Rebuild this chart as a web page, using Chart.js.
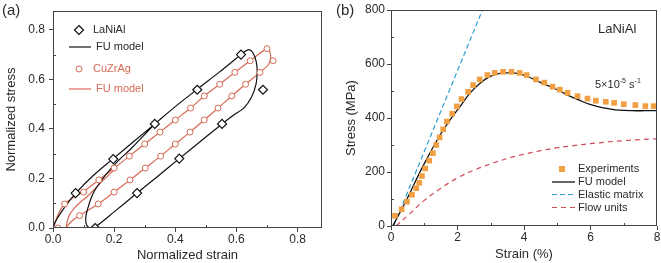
<!DOCTYPE html>
<html>
<head>
<meta charset="utf-8">
<script src="https://cdn.jsdelivr.net/npm/chart.js@4.4.1/dist/chart.umd.min.js"></script>
<style>
  body { margin: 0; background: #fff; }
  #wrap { position: relative; width: 661px; height: 263px; }
  .panel { position: absolute; top: 0; height: 263px; }
</style>
</head>
<body>
<div id="wrap">
  <div class="panel" style="left:0;width:330px"><canvas id="chartA"></canvas></div>
  <div class="panel" style="left:330px;width:331px"><canvas id="chartB"></canvas></div>
</div>
<script>
// ---- panel (a): normalized stress-strain loops ----
const LANIAL_X = [0.074, 0.197, 0.333, 0.472, 0.615, 0.687, 0.553, 0.413, 0.275, 0.138];
const LANIAL_Y = [0.141, 0.278, 0.420, 0.558, 0.700, 0.558, 0.420, 0.280, 0.141, 0.000];

const LANIAL_FU_X = [0, 0.01, 0.025, 0.045, 0.074, 0.13, 0.197, 0.265, 0.333, 0.40, 0.472, 0.545, 0.60, 0.625, 0.642,
  0.655, 0.665, 0.668, 0.664, 0.65, 0.625, 0.59, 0.553, 0.483, 0.413, 0.344, 0.275, 0.20, 0.15, 0.13,
  0.115, 0.108, 0.108, 0.114, 0.123, 0.135, 0.152, 0.173, 0.197, 0.222, 0.255, 0.29, 0.333];
const LANIAL_FU_Y = [0, 0.03, 0.06, 0.095, 0.14, 0.21, 0.28, 0.35, 0.42, 0.49, 0.56, 0.63, 0.685, 0.71, 0.72,
  0.705, 0.67, 0.63, 0.58, 0.53, 0.485, 0.455, 0.42, 0.35, 0.28, 0.21, 0.141, 0.065, 0.015, 0.0,
  0.004, 0.02, 0.05, 0.08, 0.115, 0.148, 0.18, 0.215, 0.25, 0.282, 0.32, 0.365, 0.42];

const CUZRAG_X = [0.016, 0.038, 0.10, 0.15, 0.20, 0.25, 0.30, 0.35, 0.40, 0.45, 0.495, 0.545, 0.595, 0.645, 0.70,
  0.72, 0.677, 0.63, 0.585, 0.54, 0.495, 0.448, 0.40, 0.352, 0.302, 0.252, 0.20, 0.148, 0.087];
const CUZRAG_Y = [0.0, 0.097, 0.145, 0.194, 0.242, 0.29, 0.339, 0.387, 0.436, 0.484, 0.533, 0.58, 0.628, 0.675, 0.724,
  0.675, 0.628, 0.58, 0.533, 0.484, 0.436, 0.387, 0.339, 0.29, 0.242, 0.194, 0.145, 0.097, 0.05];

const CUZRAG_FU_X = [0, 0.012, 0.025, 0.038, 0.06, 0.10, 0.15, 0.20, 0.25, 0.30, 0.35, 0.40, 0.45, 0.495, 0.545, 0.595, 0.645, 0.70,
  0.708, 0.712, 0.705, 0.677, 0.63, 0.585, 0.54, 0.495, 0.448, 0.40, 0.352, 0.302, 0.252, 0.20, 0.148, 0.087,
  0.062, 0.048, 0.044, 0.046, 0.055, 0.07, 0.09, 0.115, 0.15, 0.20];
const CUZRAG_FU_Y = [0, 0.04, 0.075, 0.097, 0.118, 0.147, 0.194, 0.242, 0.29, 0.339, 0.387, 0.436, 0.484, 0.533, 0.58, 0.628, 0.675, 0.724,
  0.715, 0.69, 0.66, 0.628, 0.58, 0.533, 0.484, 0.436, 0.387, 0.339, 0.29, 0.242, 0.194, 0.145, 0.097, 0.05,
  0.028, 0.01, 0.002, 0.025, 0.055, 0.08, 0.105, 0.13, 0.175, 0.235];

const A_TICKS_MINOR = [0.1, 0.3, 0.5, 0.7];

// ---- panel (b): LaNiAl stress-strain ----
const EXP_STRAIN = [0.12, 0.32, 0.48, 0.63, 0.76, 0.85, 0.93, 1.03, 1.15, 1.26, 1.36, 1.46, 1.57, 1.68, 1.84, 1.98, 2.12, 2.32, 2.47, 2.67,
  2.90, 3.12, 3.37, 3.62, 3.87, 4.08, 4.36, 4.61, 4.86, 5.08, 5.31, 5.61, 5.91, 6.16, 6.46, 6.71, 7.0, 7.35, 7.65, 7.9];
const EXP_STRESS = [38, 62, 90, 116, 140, 160, 185, 213, 242, 270, 300, 328, 358, 387, 416, 443, 470, 497, 522, 543,
  559, 567, 571, 571, 567, 559, 543, 531, 516, 505, 493, 481, 472, 464, 460, 456, 451, 448, 444, 444];

const FU_STRAIN = [0.05, 0.46, 0.95, 1.47, 1.77, 2.07, 2.37, 2.67, 2.97, 3.27, 3.57, 3.87, 4.17, 4.46, 4.76, 5.06, 5.36, 5.66, 5.96, 6.26, 6.56, 6.85, 7.25, 7.65, 8];
const FU_STRESS = [0, 95, 219, 336, 392, 441, 491, 528, 553, 565, 567, 563, 550, 534, 518, 501, 482, 466, 451, 441, 434, 429, 427, 427, 427];

const ELASTIC_STRAIN = [0.08, 2.75];
const ELASTIC_STRESS = [0, 800];

const FLOW_STRAIN = [0.15, 0.5, 1, 1.5, 2, 2.5, 3, 3.5, 4, 4.5, 5, 5.5, 6, 6.5, 7, 7.5, 8];
const FLOW_STRESS = [0, 38, 95, 140, 178, 207, 230, 250, 266, 279, 290, 298, 305, 311, 316, 320, 323];

const B_X_MINOR = [1, 3, 5, 7];
const B_Y_MINOR = [100, 300, 500, 700];

const FONT = '"Liberation Sans", Arial, sans-serif';
const AXIS_COLOR = '#444';
const TEXT_COLOR = '#2a2a2a';
const RED = '#d66a55';
const ORANGE = '#f0a042';
const BLUE = '#2b9fd1';
const FLOW_RED = '#d2495a';

function pts(xs, ys) {
  return xs.map((x, i) => ({ x, y: ys[i] }));
}

function axis(opts) {
  return {
    type: 'linear',
    min: opts.min,
    max: opts.max,
    border: { display: false },
    grid: { drawOnChartArea: false, drawTicks: true, tickLength: 4, color: AXIS_COLOR },
    ticks: {
      stepSize: opts.step,
      includeBounds: false,
      color: TEXT_COLOR,
      padding: opts.tickPad,
      font: { family: FONT, size: 12 },
      callback: opts.format,
    },
    title: {
      display: true,
      text: opts.title,
      color: TEXT_COLOR,
      font: { family: FONT, size: 13 },
      padding: opts.titlePad,
    },
    afterFit: opts.fit,
  };
}

// frame, inward minor ticks, legend and free text
function decorPlugin(cfg) {
  return {
    id: 'decor',
    afterDatasetsDraw(chart) {
      const { ctx, chartArea: a, scales } = chart;
      ctx.save();
      ctx.strokeStyle = AXIS_COLOR;
      ctx.lineWidth = 1;
      ctx.strokeRect(Math.round(a.left) + 0.5, Math.round(a.top) + 0.5,
        Math.round(a.right - a.left) - 1, Math.round(a.bottom - a.top) - 1);

      ctx.beginPath();
      cfg.xMinor.forEach((v) => {
        const px = Math.round(scales.x.getPixelForValue(v)) + 0.5;
        ctx.moveTo(px, a.bottom);
        ctx.lineTo(px, a.bottom - 3);
      });
      cfg.yMinor.forEach((v) => {
        const py = Math.round(scales.y.getPixelForValue(v)) + 0.5;
        ctx.moveTo(a.left, py);
        ctx.lineTo(a.left + 3, py);
      });
      ctx.stroke();

      ctx.textBaseline = 'middle';
      cfg.legend.forEach((it) => {
        ctx.setLineDash([]);
        if (it.kind === 'line') {
          ctx.beginPath();
          ctx.setLineDash(it.dash || []);
          ctx.strokeStyle = it.color;
          ctx.lineWidth = it.width;
          ctx.moveTo(it.x0, it.y);
          ctx.lineTo(it.x1, it.y);
          ctx.stroke();
          ctx.setLineDash([]);
        } else if (it.kind === 'diamond') {
          ctx.beginPath();
          ctx.moveTo(it.cx, it.y - it.r);
          ctx.lineTo(it.cx + it.r, it.y);
          ctx.lineTo(it.cx, it.y + it.r);
          ctx.lineTo(it.cx - it.r, it.y);
          ctx.closePath();
          ctx.fillStyle = '#fff';
          ctx.fill();
          ctx.strokeStyle = it.color;
          ctx.lineWidth = 1.2;
          ctx.stroke();
        } else if (it.kind === 'circle') {
          ctx.beginPath();
          ctx.arc(it.cx, it.y, it.r, 0, Math.PI * 2);
          ctx.fillStyle = '#fff';
          ctx.fill();
          ctx.strokeStyle = it.color;
          ctx.lineWidth = 1;
          ctx.stroke();
        } else if (it.kind === 'square') {
          ctx.fillStyle = it.color;
          ctx.fillRect(it.cx - it.r, it.y - it.r, it.r * 2, it.r * 2);
        }
        ctx.font = `11px ${FONT}`;
        ctx.fillStyle = it.textColor;
        ctx.fillText(it.text, it.tx, it.y);
      });

      cfg.texts.forEach((t) => {
        ctx.font = `${t.size}px ${FONT}`;
        ctx.fillStyle = TEXT_COLOR;
        let x = t.x;
        t.parts.forEach((p) => {
          if (p.sup) {
            ctx.font = `${Math.round(t.size * 0.65)}px ${FONT}`;
            ctx.fillText(p.s, x, t.y - t.size * 0.35);
            x += ctx.measureText(p.s).width;
            ctx.font = `${t.size}px ${FONT}`;
          } else {
            ctx.fillText(p.s, x, t.y);
            x += ctx.measureText(p.s).width;
          }
        });
      });
      ctx.restore();
    },
  };
}

Chart.defaults.font.family = FONT;

new Chart(document.getElementById('chartA'), {
  type: 'scatter',
  data: {
    datasets: [
      {
        label: 'LaNiAl',
        data: pts(LANIAL_X, LANIAL_Y),
        pointStyle: 'rectRot',
        pointRadius: 4.5,
        pointBackgroundColor: '#fff',
        pointBorderColor: '#111',
        pointBorderWidth: 1.2,
        showLine: false,
      },
      {
        label: 'CuZrAg',
        data: pts(CUZRAG_X, CUZRAG_Y),
        pointStyle: 'circle',
        pointRadius: 3,
        pointBackgroundColor: '#fff',
        pointBorderColor: RED,
        pointBorderWidth: 1,
        showLine: false,
      },
      {
        label: 'FU model (LaNiAl)',
        data: pts(LANIAL_FU_X, LANIAL_FU_Y),
        showLine: true,
        borderColor: '#111',
        borderWidth: 1.2,
        pointRadius: 0,
        tension: 0.35,
      },
      {
        label: 'FU model (CuZrAg)',
        data: pts(CUZRAG_FU_X, CUZRAG_FU_Y),
        showLine: true,
        borderColor: RED,
        borderWidth: 1.2,
        pointRadius: 0,
        tension: 0.35,
      },
    ],
  },
  options: {
    responsive: true,
    maintainAspectRatio: false,
    animation: false,
    devicePixelRatio: 1,
    layout: { padding: { left: 0, right: 8, top: 10, bottom: 0 } },
    plugins: { legend: { display: false }, tooltip: { enabled: false } },
    scales: {
      x: axis({
        min: 0, max: 0.88, step: 0.2, tickPad: 0,
        format: (v) => v.toFixed(1),
        title: 'Normalized strain', titlePad: { top: 0, bottom: 0 },
        fit: (s) => { s.height = 35; },
      }),
      y: axis({
        min: 0, max: 0.875, step: 0.2, tickPad: 4,
        format: (v) => v.toFixed(1),
        title: 'Normalized stress', titlePad: { top: 4, bottom: 0 },
        fit: (s) => { s.width = 53; },
      }),
    },
  },
  plugins: [decorPlugin({
    xMinor: A_TICKS_MINOR,
    yMinor: A_TICKS_MINOR,
    legend: [
      { kind: 'diamond', cx: 79, y: 30, r: 4.5, color: '#111', text: 'LaNiAl', tx: 93, textColor: TEXT_COLOR },
      { kind: 'line', x0: 69, x1: 91, y: 47, color: '#111', width: 1.2, text: 'FU model', tx: 96, textColor: TEXT_COLOR },
      { kind: 'circle', cx: 79, y: 69, r: 3, color: RED, text: 'CuZrAg', tx: 93, textColor: RED },
      { kind: 'line', x0: 69, x1: 91, y: 89, color: RED, width: 1.2, text: 'FU model', tx: 96, textColor: RED },
    ],
    texts: [
      { x: 2, y: 11, size: 15, parts: [{ s: '(a)' }] },
    ],
  })],
});

new Chart(document.getElementById('chartB'), {
  type: 'scatter',
  data: {
    datasets: [
      {
        label: 'Experiments',
        data: pts(EXP_STRAIN, EXP_STRESS),
        pointStyle: 'rect',
        pointRadius: 4,
        pointBackgroundColor: ORANGE,
        pointBorderColor: ORANGE,
        pointBorderWidth: 0,
        showLine: false,
      },
      {
        label: 'FU model',
        data: pts(FU_STRAIN, FU_STRESS),
        showLine: true,
        borderColor: '#111',
        borderWidth: 1.3,
        pointRadius: 0,
        tension: 0.4,
      },
      {
        label: 'Elastic matrix',
        data: pts(ELASTIC_STRAIN, ELASTIC_STRESS),
        showLine: true,
        borderColor: BLUE,
        borderWidth: 1.2,
        borderDash: [5, 3],
        pointRadius: 0,
      },
      {
        label: 'Flow units',
        data: pts(FLOW_STRAIN, FLOW_STRESS),
        showLine: true,
        borderColor: FLOW_RED,
        borderWidth: 1.2,
        borderDash: [5, 4],
        pointRadius: 0,
        tension: 0.4,
      },
    ],
  },
  options: {
    responsive: true,
    maintainAspectRatio: false,
    animation: false,
    devicePixelRatio: 1,
    layout: { padding: { left: 0, right: 3, top: 10, bottom: 0 } },
    plugins: { legend: { display: false }, tooltip: { enabled: false } },
    scales: {
      x: axis({
        min: 0, max: 8, step: 2, tickPad: 0,
        format: (v) => String(v),
        title: 'Strain (%)', titlePad: { top: 0, bottom: 1 },
        fit: (s) => { s.height = 37; },
      }),
      y: axis({
        min: 0, max: 800, step: 200, tickPad: 2,
        format: (v) => String(v),
        title: 'Stress (MPa)', titlePad: { top: 14, bottom: 0 },
        fit: (s) => { s.width = 61; },
      }),
    },
  },
  plugins: [decorPlugin({
    xMinor: B_X_MINOR,
    yMinor: B_Y_MINOR,
    legend: [
      { kind: 'square', cx: 232, y: 169, r: 3, color: ORANGE, text: 'Experiments', tx: 248, textColor: TEXT_COLOR },
      { kind: 'line', x0: 222, x1: 245, y: 182, color: '#111', width: 1.3, text: 'FU model', tx: 248, textColor: TEXT_COLOR },
      { kind: 'line', x0: 222, x1: 245, y: 194.5, color: BLUE, width: 1.2, dash: [5, 3], text: 'Elastic matrix', tx: 248, textColor: TEXT_COLOR },
      { kind: 'line', x0: 222, x1: 245, y: 207.5, color: FLOW_RED, width: 1.2, dash: [5, 4], text: 'Flow units', tx: 248, textColor: TEXT_COLOR },
    ],
    texts: [
      { x: 6, y: 11, size: 15, parts: [{ s: '(b)' }] },
      { x: 268, y: 29, size: 13, parts: [{ s: 'LaNiAl' }] },
      { x: 265, y: 85, size: 11, parts: [{ s: '5×10' }, { s: '-5', sup: true }, { s: ' s' }, { s: '-1', sup: true }] },
    ],
  })],
});
</script>
</body>
</html>
